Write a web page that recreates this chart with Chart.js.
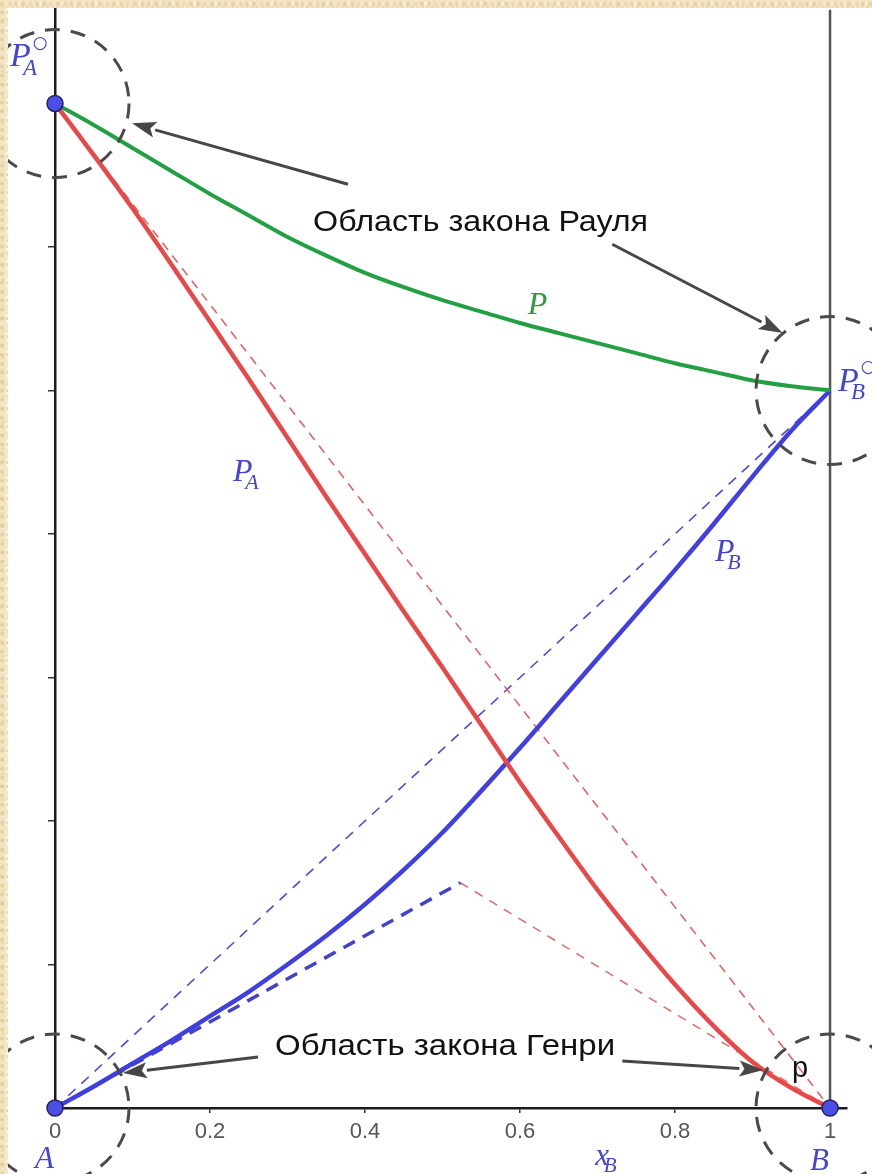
<!DOCTYPE html>
<html lang="ru">
<head>
<meta charset="utf-8">
<title>Давление пара над бинарным раствором</title>
<script src="https://cdn.jsdelivr.net/npm/chart.js@4.4.1/dist/chart.umd.min.js"></script>
<style>
  html, body { margin: 0; padding: 0; }
  body {
    width: 872px; height: 1174px; overflow: hidden; position: relative;
    background-color: #f3e4c2;
    background-image:
      radial-gradient(circle at 30% 40%, rgba(205,172,110,0.35) 0 1.5px, transparent 2.5px),
      radial-gradient(circle at 70% 60%, rgba(255,249,232,0.7) 0 1.5px, transparent 2.5px),
      radial-gradient(circle at 50% 50%, rgba(220,190,135,0.3) 0 1px, transparent 2px);
    background-size: 7px 9px, 11px 6px, 5px 13px;
  }
  #sheet { position: absolute; left: 8px; top: 8px; right: 0; bottom: 0; background: #fff; }
  canvas { position: absolute; left: 0; top: 0; }
</style>
</head>
<body>
<div id="sheet"></div>
<canvas id="chart" width="872" height="1174"></canvas>
<script>
// Mole fraction of component B
const xB = [0, 0.05, 0.1, 0.15, 0.2, 0.25, 0.3, 0.35, 0.4, 0.45, 0.5,
            0.55, 0.6, 0.65, 0.7, 0.75, 0.8, 0.85, 0.9, 0.95, 1];
// Partial pressure of A
const pA = [7.0, 6.64, 6.27, 5.88, 5.48, 5.08, 4.67, 4.26, 3.86, 3.46, 3.07,
            2.67, 2.27, 1.89, 1.52, 1.18, 0.86, 0.57, 0.32, 0.14, 0];
// Partial pressure of B
const pB = [0, 0.15, 0.31, 0.47, 0.64, 0.81, 1.0, 1.2, 1.42, 1.66, 1.92,
            2.21, 2.51, 2.82, 3.13, 3.44, 3.75, 4.07, 4.4, 4.72, 5.0];
// Total vapour pressure
const pTotal = [7.0, 6.85, 6.69, 6.53, 6.37, 6.22, 6.07, 5.94, 5.82, 5.72, 5.63,
                5.55, 5.47, 5.4, 5.33, 5.26, 5.19, 5.13, 5.07, 5.03, 5.0];

// Pure-component pressures and the meeting point of the two Henry lines
const pAPure = 7;
const pBPure = 5;
const henryMeet = { x: 0.523, y: 1.57 };

const xTickValues = [0, 0.2, 0.4, 0.6, 0.8, 1];
const xTickLabels = ['0', '0.2', '0.4', '0.6', '0.8', '1'];
const yTickValues = [1, 2, 3, 4, 5, 6, 7];

const X_MAX = 1.0219;
const Y_MAX = 7.655;

const pts = (xs, ys) => xs.map((x, i) => ({ x, y: ys[i] }));

// Dashed "region" circles, centred on data points (radius in pixels)
const regionCircles = [
  { x: 0, y: pAPure }, { x: 1, y: pBPure }, { x: 0, y: 0 }, { x: 1, y: 0 }
];
// Arrows pointing from the captions into the regions (data units)
const arrows = [
  { from: [0.378, 6.437], to: [0.0994, 6.862] },
  { from: [0.719, 6.019], to: [0.939, 5.40] },
  { from: [0.262, 0.355], to: [0.0877, 0.2436] },
  { from: [0.732, 0.327], to: [0.914, 0.264] }
];

const SERIF = "'Liberation Serif', 'Times New Roman', serif";
const SANS = "'Liberation Sans', Arial, sans-serif";
const BLUE_TXT = '#4545cf';

function drawArrow(ctx, x1, y1, x2, y2) {
  const ang = Math.atan2(y2 - y1, x2 - x1);
  const L = 24, W = 8;
  const bx = x2 - L * Math.cos(ang), by = y2 - L * Math.sin(ang);
  ctx.strokeStyle = '#474747';
  ctx.fillStyle = '#474747';
  ctx.lineWidth = 3;
  ctx.setLineDash([]);
  ctx.beginPath();
  ctx.moveTo(x1, y1);
  ctx.lineTo(bx, by);
  ctx.stroke();
  ctx.beginPath();
  ctx.moveTo(x2, y2);
  ctx.lineTo(bx + W * Math.sin(ang), by - W * Math.cos(ang));
  ctx.lineTo(bx + 5 * Math.cos(ang), by + 5 * Math.sin(ang));
  ctx.lineTo(bx - W * Math.sin(ang), by + W * Math.cos(ang));
  ctx.closePath();
  ctx.fill();
}

function caption(ctx, str, x, y, width) {
  ctx.save();
  ctx.font = '29px ' + SANS;
  const w = ctx.measureText(str).width;
  ctx.translate(x, y);
  ctx.scale(width / w, 1);
  ctx.fillStyle = '#111';
  ctx.textAlign = 'left';
  ctx.textBaseline = 'alphabetic';
  ctx.fillText(str, 0, 0);
  ctx.restore();
}

// Italic symbol with optional subscript and "standard state" superscript
function symbol(ctx, x, y, main, sub, sup, size, color) {
  ctx.save();
  ctx.fillStyle = color;
  ctx.textAlign = 'left';
  ctx.textBaseline = 'alphabetic';
  ctx.font = 'italic ' + size + 'px ' + SERIF;
  ctx.fillText(main, x, y);
  const w = ctx.measureText(main).width;
  if (sub) {
    ctx.font = 'italic ' + Math.round(size * 0.68) + 'px ' + SERIF;
    ctx.fillText(sub, x + w * 0.62, y + size * 0.24);
  }
  if (sup) {
    ctx.font = Math.round(size * 0.5) + 'px ' + "'DejaVu Sans', sans-serif";
    ctx.fillText(sup, x + w + 2, y - size * 0.55);
  }
  ctx.restore();
}

const decor = {
  id: 'decor',
  afterDatasetsDraw(chart) {
    const ctx = chart.ctx;
    const sx = chart.scales.x, sy = chart.scales.y;
    const X = v => sx.getPixelForValue(v);
    const Y = v => sy.getPixelForValue(v);
    ctx.save();
    // keep the decorations on the white sheet
    ctx.beginPath();
    ctx.rect(8, 8, chart.width - 8, chart.height - 8);
    ctx.clip();

    // dashed region circles
    ctx.strokeStyle = '#4a4a4a';
    ctx.lineWidth = 3;
    ctx.setLineDash([15, 11]);
    regionCircles.forEach(c => {
      ctx.beginPath();
      ctx.arc(X(c.x), Y(c.y), 74, 0, Math.PI * 2);
      ctx.stroke();
    });
    ctx.setLineDash([]);

    arrows.forEach(a => drawArrow(ctx, X(a.from[0]), Y(a.from[1]), X(a.to[0]), Y(a.to[1])));

    caption(ctx, 'Область закона Рауля', X(0.333), Y(6.11), 335);
    caption(ctx, 'Область закона Генри', X(0.284), Y(0.369), 340);

    ctx.font = '29px ' + SANS;
    ctx.fillStyle = '#111';
    ctx.fillText('p', X(0.951), Y(0.216));

    symbol(ctx, X(0.61), Y(5.532), 'P', '', '', 32, '#2a9d40');
    symbol(ctx, X(0.2297), Y(4.37), 'P', 'A', '', 32, BLUE_TXT);
    symbol(ctx, X(0.8516), Y(3.813), 'P', 'B', '', 32, BLUE_TXT);
    symbol(ctx, X(-0.058), Y(7.258), 'P', 'A', '○', 34, BLUE_TXT);
    symbol(ctx, X(1.0103), Y(4.997), 'P', 'B', '○', 34, BLUE_TXT);
    symbol(ctx, X(-0.0258), Y(-0.418), 'A', '', '', 31, BLUE_TXT);
    symbol(ctx, X(0.974), Y(-0.431), 'B', '', '', 31, BLUE_TXT);
    symbol(ctx, X(0.697), Y(-0.397), 'x', 'B', '', 31, BLUE_TXT);

    ctx.restore();
  }
};

const lineDs = (data, color, width, dash, order) => ({
  data, showLine: true, fill: false, pointRadius: 0, pointHoverRadius: 0,
  borderColor: color, borderWidth: width, borderDash: dash || [],
  cubicInterpolationMode: 'monotone', order
});

new Chart(document.getElementById('chart'), {
  type: 'scatter',
  data: {
    datasets: [
      // marked points A, B and P_A°
      {
        data: [{ x: 0, y: pAPure }, { x: 0, y: 0 }, { x: 1, y: 0 }],
        pointRadius: 8, pointBackgroundColor: '#4d4de8', pointBorderColor: '#23235e',
        pointBorderWidth: 1.5, clip: false, order: 0
      },
      lineDs(pts(xB, pTotal), '#22a043', 4, null, 1),
      lineDs(pts(xB, pA), '#e84848', 4.5, null, 2),
      lineDs(pts(xB, pB), '#3f3fe2', 4.5, null, 3),
      // Henry's law lines
      lineDs([{ x: 0, y: 0 }, henryMeet], '#4343c8', 3.5, [13, 9], 4),
      lineDs([henryMeet, { x: 1, y: 0 }], '#e07272', 1.6, [9, 8], 5),
      // Raoult's law lines
      lineDs([{ x: 0, y: pAPure }, { x: 1, y: 0 }], '#e46464', 1.6, [9, 7], 6),
      lineDs([{ x: 0, y: 0 }, { x: 1, y: pBPure }], '#4c4cd8', 1.6, [10, 8], 7),
      // pure B edge
      lineDs([{ x: 1, y: 0 }, { x: 1, y: Y_MAX }], '#555', 2.5, null, 10)
    ]
  },
  options: {
    responsive: false,
    animation: false,
    devicePixelRatio: 1,
    events: [],
    layout: { padding: { top: 8, right: 25, bottom: 0, left: 0 } },
    plugins: { legend: { display: false }, tooltip: { enabled: false } },
    scales: {
      x: {
        type: 'linear', min: 0, max: X_MAX,
        afterBuildTicks: s => { s.ticks = xTickValues.map(v => ({ value: v })); },
        afterFit: s => { s.height = 66; },
        grid: { drawOnChartArea: false, drawTicks: true, tickLength: 5, color: '#333', lineWidth: 1.5 },
        border: { display: true, color: '#1c1c1c', width: 2.5 },
        ticks: {
          padding: 6, color: '#555', autoSkip: false, maxRotation: 0,
          font: { family: SANS, size: 22 },
          callback: (v, i) => xTickLabels[i]
        }
      },
      y: {
        type: 'linear', min: 0, max: Y_MAX,
        afterBuildTicks: s => { s.ticks = yTickValues.map(v => ({ value: v })); },
        afterFit: s => { s.width = 55; },
        grid: { drawOnChartArea: false, drawTicks: true, tickLength: 7, color: '#333', lineWidth: 1.5 },
        border: { display: true, color: '#1c1c1c', width: 2.5 },
        ticks: { display: false }
      }
    }
  },
  plugins: [decor]
});
</script>
</body>
</html>
